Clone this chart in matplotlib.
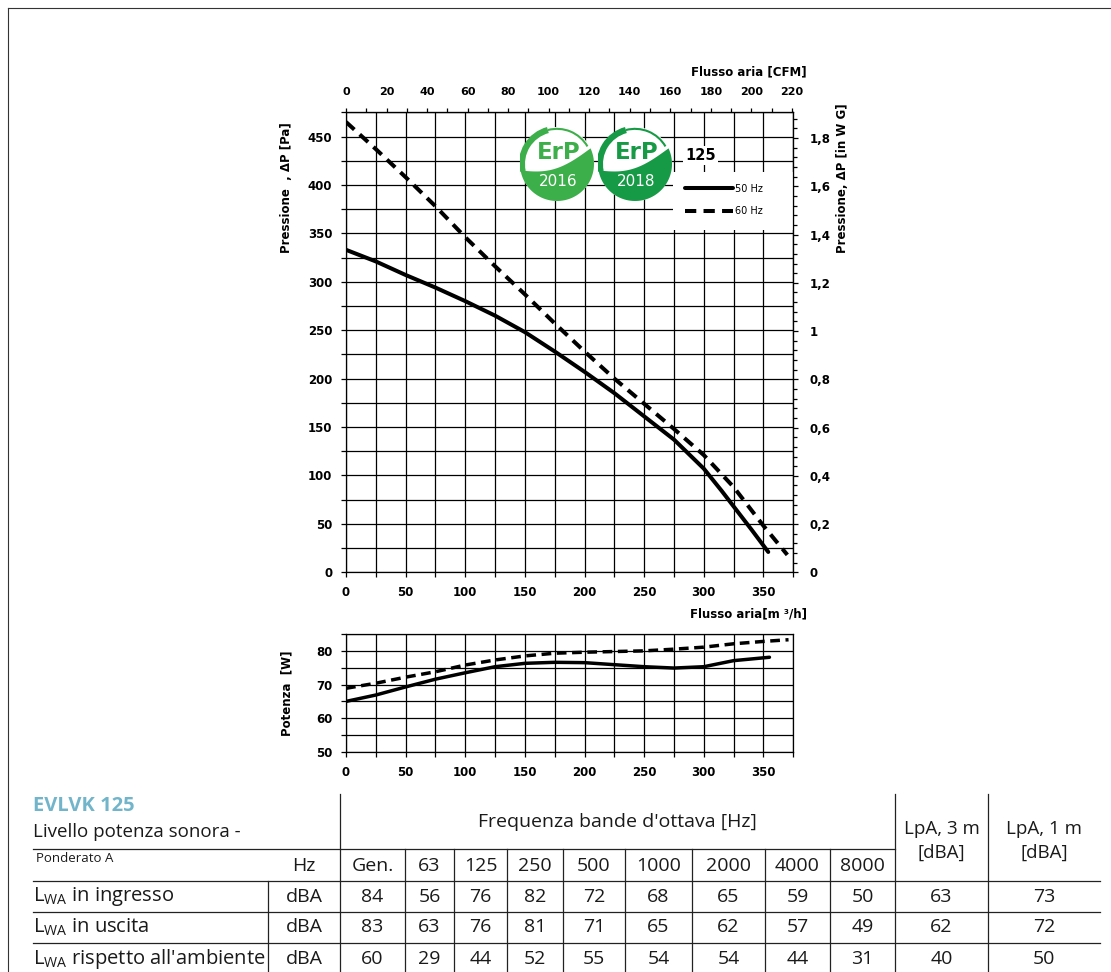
import numpy as np
import matplotlib
matplotlib.use('Agg')
import matplotlib.pyplot as plt
from matplotlib.ticker import MultipleLocator, FuncFormatter
from matplotlib.lines import Line2D
from matplotlib.patches import Circle, Arc, Polygon, Rectangle

# pressure curves, flow in m3/h, pressure in Pa
flow_50 = [0, 25, 50, 75, 100, 125, 150, 175, 200, 225, 250, 275, 290, 300, 315, 325, 340, 354]
press_50 = [333, 321, 307, 294, 280, 265, 248, 228, 207, 185, 161, 137, 119, 107, 84, 68, 44, 21]
flow_60 = [0, 25, 50, 75, 100, 125, 150, 175, 200, 225, 250, 275, 300, 325, 350, 370]
press_60 = [465, 437, 408, 378, 346, 316, 287, 257, 228, 200, 174, 148, 121, 88, 48, 18]

# absorbed power, W
pflow_50 = [0, 25, 50, 75, 100, 125, 150, 175, 200, 225, 250, 275, 300, 325, 355]
power_50 = [65, 66.9, 69.3, 71.6, 73.5, 75.3, 76.3, 76.6, 76.5, 75.9, 75.3, 74.9, 75.3, 77.1, 78.1]
pflow_60 = [0, 25, 50, 75, 100, 125, 150, 175, 200, 225, 250, 275, 300, 325, 350, 371]
power_60 = [68.9, 70.4, 72.2, 73.8, 75.8, 77.3, 78.5, 79.3, 79.6, 79.8, 80.0, 80.5, 81.1, 82.1, 82.8, 83.3]

# sound table
bands = ['Gen.', '63', '125', '250', '500', '1000', '2000', '4000', '8000']
row_names = ['in ingresso', 'in uscita', "rispetto all'ambiente"]
lwa_in = [84, 56, 76, 82, 72, 68, 65, 59, 50]
lwa_out = [83, 63, 76, 81, 71, 65, 62, 57, 49]
lwa_amb = [60, 29, 44, 52, 55, 54, 54, 44, 31]
lpa_3m = [63, 62, 40]
lpa_1m = [73, 72, 50]

W, H = 1111, 972
def fx(p): return p / W
def fy(p): return 1 - p / H

plt.rcParams['font.family'] = ['DejaVu Sans']
plt.rcParams['font.weight'] = 'bold'

fig = plt.figure(figsize=(W / 100, H / 100), dpi=100)

# outer frame
fig.add_artist(Line2D([fx(8), 1], [fy(8), fy(8)], color='#333333', lw=0.8))
fig.add_artist(Line2D([fx(8), fx(8)], [0, fy(8)], color='#333333', lw=0.8))

def style(a):
    a.grid(which='both', color='black', lw=0.9)
    a.set_axisbelow(True)
    for s in a.spines.values():
        s.set_linewidth(0.9)
    a.tick_params(which='both', direction='out', length=3.8, width=0.9, pad=6, labelsize=8.5)

# ---- pressure chart
ax = fig.add_axes([fx(346), fy(572.3), 447.3 / W, 460 / H])
ax.set_xlim(0, 375)
ax.set_ylim(0, 475)
ax.xaxis.set_major_locator(MultipleLocator(50))
ax.xaxis.set_minor_locator(MultipleLocator(25))
ax.yaxis.set_major_locator(MultipleLocator(50))
ax.yaxis.set_minor_locator(MultipleLocator(25))
style(ax)

l50, = ax.plot(flow_50, press_50, color='black', lw=2.9, solid_capstyle='round', zorder=3)
l60, = ax.plot(flow_60, press_60, color='black', lw=2.9, ls=(0, (2.8, 1.8)), zorder=3)

top = ax.secondary_xaxis('top', functions=(lambda q: q / 1.699, lambda c: c * 1.699))
top.xaxis.set_major_locator(MultipleLocator(20))
top.xaxis.set_minor_locator(MultipleLocator(10))
top.tick_params(which='both', direction='out', length=3, width=0.9, pad=8, labelsize=8)

right = ax.secondary_yaxis('right', functions=(lambda p: p / 249.09, lambda w: w * 249.09))
right.yaxis.set_major_locator(MultipleLocator(0.2))
right.yaxis.set_minor_locator(MultipleLocator(0.04))
right.yaxis.set_major_formatter(FuncFormatter(lambda v, pos: f"{round(v, 2):g}".replace('.', ',')))
right.tick_params(which='major', direction='out', length=3.6, width=0.9, pad=8, labelsize=8.5)
right.tick_params(which='minor', direction='out', length=2.8, width=0.9)

# legend area
ax.add_patch(Rectangle((0.731, 0.744), 0.269, 0.126, transform=ax.transAxes,
                       facecolor='white', edgecolor='none', zorder=1.5))
ax.text(0.758, 0.907, '125', transform=ax.transAxes, fontsize=10.5, va='center', ha='left',
        bbox=dict(facecolor='white', edgecolor='none', pad=1.5), zorder=4)
ax.legend([l50, l60], ['50 Hz', '60 Hz'], loc='upper left', bbox_to_anchor=(0.731, 0.870),
          borderaxespad=0, borderpad=1.2, frameon=False, handlelength=5.0, handletextpad=0.2,
          labelspacing=1.3, prop={'size': 7, 'weight': 'normal'})

# ErP logos
def logo(cx, cy, green, year):
    r = 37
    la = fig.add_axes([fx(cx - r), fy(cy + r), 2 * r / W, 2 * r / H])
    la.set_xlim(-1, 1)
    la.set_ylim(-1, 1)
    la.axis('off')
    la.add_patch(Circle((0, 0), 1.0, facecolor='white', edgecolor='none'))
    a = np.radians(np.linspace(190, 385, 60))
    bottom = np.column_stack([np.cos(a), np.sin(a)])
    t = np.linspace(0, 1, 30)
    x0, y0 = np.cos(np.radians(25)), np.sin(np.radians(25))
    x1, y1 = np.cos(np.radians(190)), np.sin(np.radians(190))
    edge = np.column_stack([x0 + (x1 - x0) * t, y0 + (y1 - y0) * t - 0.25 * np.sin(np.pi * t)])
    la.add_patch(Polygon(np.vstack([bottom, edge]), closed=True, facecolor=green, edgecolor='none'))
    la.add_patch(Arc((0, 0), 1.9, 1.9, theta1=105, theta2=192, lw=4.5, color=green))
    la.add_patch(Arc((0, 0), 1.9, 1.9, theta1=30, theta2=105, lw=1.5, color=green))
    la.text(0.04, 0.32, 'ErP', color=green, fontsize=16.5, ha='center', va='center', fontweight='bold')
    la.text(0.02, -0.47, year, color='white', fontsize=11, ha='center', va='center', fontweight='normal')

logo(557, 164, '#3daf4a', '2016')
logo(635, 164, '#169a45', '2018')

fig.text(fx(287), fy(188), 'Pressione  , ΔP [Pa]', rotation=90, ha='center', va='center', fontsize=8.5)
fig.text(fx(843), fy(178), 'Pressione, ΔP [in W G]', rotation=90, ha='center', va='center', fontsize=8.5)
fig.text(fx(807), fy(72), 'Flusso aria [CFM]', ha='right', va='center', fontsize=8.5)
fig.text(fx(807), fy(614), 'Flusso aria[m ³/h]', ha='right', va='center', fontsize=8.5)

# ---- power chart
axp = fig.add_axes([fx(346), fy(752), 447.3 / W, 118 / H])
axp.set_xlim(0, 375)
axp.set_ylim(50, 85)
axp.xaxis.set_major_locator(MultipleLocator(50))
axp.xaxis.set_minor_locator(MultipleLocator(25))
axp.yaxis.set_major_locator(MultipleLocator(10))
axp.yaxis.set_minor_locator(MultipleLocator(5))
style(axp)
axp.plot(pflow_50, power_50, color='black', lw=2.5, solid_capstyle='round', zorder=3)
axp.plot(pflow_60, power_60, color='black', lw=2.5, ls=(0, (2.8, 1.6)), zorder=3)
fig.text(fx(287), fy(693), 'Potenza  [W]', rotation=90, ha='center', va='center', fontsize=8.5)

# ---- sound table
tf = dict(family='Open Sans', fontweight='normal', color='#1a1a1a')
fs = 14
col_x = [340, 405, 454, 507, 563, 625, 692, 765, 830, 895, 988, 1100]
row_y = [881, 912, 943, 974]

def hline(y, x0, x1):
    fig.add_artist(Line2D([fx(x0), fx(x1)], [fy(y), fy(y)], color='#222222', lw=0.9))

def vline(x, y0, y1):
    fig.add_artist(Line2D([fx(x), fx(x)], [fy(y0), fy(y1)], color='#222222', lw=0.9))

hline(849, 33, col_x[9])
for y in row_y[:3]:
    hline(y, 33, 1100)
vline(col_x[0], 794, 972)
vline(col_x[9], 794, 972)
vline(col_x[10], 794, 972)
vline(268, 881, 972)
for x in col_x[1:9]:
    vline(x, 849, 972)

fig.text(fx(33), fy(806), 'EVLVK 125', color='#72b5ca', fontsize=14.5, family='Open Sans',
         fontweight='bold', ha='left', va='center')
fig.text(fx(33), fy(832), 'Livello potenza sonora -', fontsize=13.5, ha='left', va='center', **tf)
fig.text(fx(36), fy(858), 'Ponderato A', fontsize=9.5, ha='left', va='center', **tf)
fig.text(fx(304), fy(866), 'Hz', fontsize=fs, ha='center', va='center', **tf)
fig.text(fx((col_x[0] + col_x[9]) / 2), fy(822), "Frequenza bande d'ottava [Hz]", fontsize=14,
         ha='center', va='center', **tf)
for c, lab in [(0, 'LpA, 3 m'), (1, 'LpA, 1 m')]:
    xc = (col_x[9 + c] + col_x[10 + c]) / 2
    fig.text(fx(xc), fy(829), lab, fontsize=13.5, ha='center', va='center', **tf)
    fig.text(fx(xc), fy(853), '[dBA]', fontsize=13.5, ha='center', va='center', **tf)

for i, b in enumerate(bands):
    fig.text(fx((col_x[i] + col_x[i + 1]) / 2), fy(866), b, fontsize=fs, ha='center', va='center', **tf)

rows = [lwa_in, lwa_out, lwa_amb]
for r, vals in enumerate(rows):
    yc = (row_y[r] + row_y[r + 1]) / 2
    fig.text(fx(33), fy(yc), r'$\mathregular{L_{WA}}$ ' + row_names[r], fontsize=14.5,
             ha='left', va='center', **tf)
    fig.text(fx(304), fy(yc), 'dBA', fontsize=fs, ha='center', va='center', **tf)
    for i, v in enumerate(vals):
        fig.text(fx((col_x[i] + col_x[i + 1]) / 2), fy(yc), str(v), fontsize=fs,
                 ha='center', va='center', **tf)
    fig.text(fx((col_x[9] + col_x[10]) / 2), fy(yc), str(lpa_3m[r]), fontsize=fs,
             ha='center', va='center', **tf)
    fig.text(fx((col_x[10] + col_x[11]) / 2), fy(yc), str(lpa_1m[r]), fontsize=fs,
             ha='center', va='center', **tf)

fig.savefig('out.png', dpi=100)
